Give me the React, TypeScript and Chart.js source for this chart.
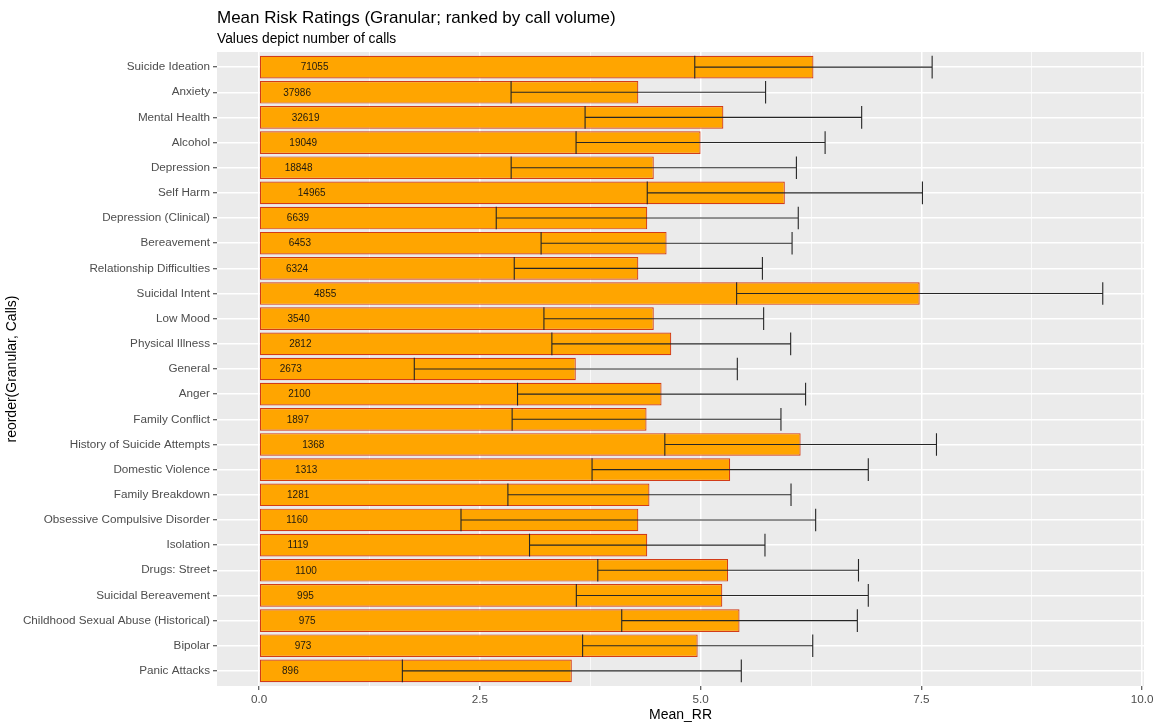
import React, { useEffect, useRef } from 'react';
import { Chart, registerables } from 'chart.js';

Chart.register(...registerables);

const categories = [
  'Suicide Ideation',
  'Anxiety',
  'Mental Health',
  'Alcohol',
  'Depression',
  'Self Harm',
  'Depression (Clinical)',
  'Bereavement',
  'Relationship Difficulties',
  'Suicidal Intent',
  'Low Mood',
  'Physical Illness',
  'General',
  'Anger',
  'Family Conflict',
  'History of Suicide Attempts',
  'Domestic Violence',
  'Family Breakdown',
  'Obsessive Compulsive Disorder',
  'Isolation',
  'Drugs: Street',
  'Suicidal Bereavement',
  'Childhood Sexual Abuse (Historical)',
  'Bipolar',
  'Panic Attacks',
];

const meanRR = [
  6.277, 4.294, 5.257, 4.999, 4.469, 5.953, 4.395, 4.614, 4.294, 7.48, 4.469, 4.667, 3.586,
  4.557, 4.387, 6.132, 5.334, 4.42, 4.294, 4.395, 5.311, 5.245, 5.44, 4.966, 3.541,
];

const sdRR = [
  1.344, 1.441, 1.566, 1.41, 1.615, 1.558, 1.71, 1.421, 1.405, 2.073, 1.244, 1.352, 1.829,
  1.631, 1.522, 1.538, 1.564, 1.603, 2.008, 1.333, 1.476, 1.653, 1.334, 1.303, 1.919,
];

const calls = [
  71055, 37986, 32619, 19049, 18848, 14965, 6639, 6453, 6324, 4855, 3540, 2812, 2673, 2100,
  1897, 1368, 1313, 1281, 1160, 1119, 1100, 995, 975, 973, 896,
];

const xTickValues = [0, 1.25, 2.5, 3.75, 5, 6.25, 7.5, 8.75, 10];
const majorTickValues = [0, 2.5, 5, 7.5, 10];

const chartTitle = 'Mean Risk Ratings (Granular; ranked by call volume)';
const chartSubtitle = 'Values depict number of calls';
const xTitle = 'Mean_RR';
const yTitle = 'reorder(Granular, Calls)';

const FONT = '"Liberation Sans", Arial, sans-serif';

const isMajor = (v: number) => majorTickValues.some((m) => Math.abs(m - v) < 1e-9);

const panelBg = {
  id: 'panelBg',
  beforeDraw(chart: any) {
    const { ctx, chartArea } = chart;
    ctx.save();
    ctx.fillStyle = '#EBEBEB';
    ctx.fillRect(chartArea.left, chartArea.top, chartArea.width, chartArea.height);
    ctx.restore();
  },
};

const errorBars = {
  id: 'errorBars',
  afterDatasetsDraw(chart: any) {
    const { ctx } = chart;
    const xs = chart.scales.x;
    const meta = chart.getDatasetMeta(0);
    ctx.save();
    ctx.strokeStyle = '#262626';
    ctx.lineWidth = 1.1;
    meta.data.forEach((bar: any, i: number) => {
      const y = bar.y;
      const h = bar.height;
      const x1 = xs.getPixelForValue(meanRR[i] - sdRR[i]);
      const x2 = xs.getPixelForValue(meanRR[i] + sdRR[i]);
      ctx.beginPath();
      ctx.moveTo(x1, y);
      ctx.lineTo(x2, y);
      ctx.moveTo(x1, y - h / 2);
      ctx.lineTo(x1, y + h / 2);
      ctx.moveTo(x2, y - h / 2);
      ctx.lineTo(x2, y + h / 2);
      ctx.stroke();
    });
    ctx.fillStyle = '#1f1a10';
    ctx.font = `10px ${FONT}`;
    ctx.textAlign = 'center';
    ctx.textBaseline = 'middle';
    meta.data.forEach((bar: any, i: number) => {
      const x = xs.getPixelForValue(meanRR[i] / 10);
      ctx.fillText(String(calls[i]), x, bar.y + 0.5);
    });
    ctx.restore();
  },
};

const titles = {
  id: 'titles',
  afterDraw(chart: any) {
    const { ctx, chartArea } = chart;
    ctx.save();
    ctx.fillStyle = '#000';
    ctx.textAlign = 'left';
    ctx.textBaseline = 'alphabetic';
    ctx.font = `17px ${FONT}`;
    ctx.fillText(chartTitle, chartArea.left, 23);
    ctx.font = `13.8px ${FONT}`;
    ctx.fillText(chartSubtitle, chartArea.left, 43);
    ctx.restore();
  },
};

export default function App() {
  const canvasRef = useRef<HTMLCanvasElement | null>(null);

  useEffect(() => {
    if (!canvasRef.current) return;
    const chart = new Chart(canvasRef.current, {
      type: 'bar',
      data: {
        datasets: [
          {
            data: meanRR.map((v, i) => ({ x: v, y: i })) as any,
            backgroundColor: '#FFA500',
            borderColor: '#D23C18',
            borderWidth: 1.2,
            borderSkipped: false,
            categoryPercentage: 1,
            barPercentage: 0.9,
          },
        ],
      },
      options: {
        indexAxis: 'y',
        responsive: false,
        animation: false,
        layout: { padding: { top: 52, right: 13, left: 0, bottom: 0 } },
        plugins: {
          legend: { display: false },
          tooltip: { enabled: false },
          title: { display: false },
        },
        scales: {
          x: {
            type: 'linear',
            min: -0.477,
            max: 10.02,
            offset: false,
            afterBuildTicks: (scale: any) => {
              scale.ticks = xTickValues.map((v) => ({ value: v }));
            },
            afterFit: (scale: any) => {
              scale.height = 39;
            },
            ticks: {
              autoSkip: false,
              maxRotation: 0,
              padding: 3,
              color: '#4D4D4D',
              font: { family: FONT, size: 11.7 },
              callback: (v: any) => (isMajor(Number(v)) ? Number(v).toFixed(1) : ''),
            },
            grid: {
              offset: false,
              color: '#FFFFFF',
              lineWidth: (ctx: any) => (ctx.tick && isMajor(ctx.tick.value) ? 1.5 : 0.7),
              tickColor: (ctx: any) =>
                ctx.tick && isMajor(ctx.tick.value) ? '#333333' : 'rgba(0,0,0,0)',
              tickLength: 4,
              tickWidth: 1,
            },
            border: { display: false },
            title: {
              display: true,
              text: xTitle,
              color: '#000',
              font: { family: FONT, size: 14 },
              padding: { top: 0, bottom: 1 },
            },
          },
          y: {
            type: 'linear',
            reverse: true,
            min: -0.6,
            max: 24.6,
            offset: false,
            afterBuildTicks: (scale: any) => {
              scale.ticks = categories.map((_, i) => ({ value: i }));
            },
            afterFit: (scale: any) => {
              scale.width = 217;
            },
            ticks: {
              autoSkip: false,
              padding: 3,
              color: '#4D4D4D',
              font: { family: FONT, size: 11.7 },
              callback: (v: any) => categories[Number(v)] ?? '',
            },
            grid: {
              offset: false,
              color: '#FFFFFF',
              lineWidth: 1.5,
              tickColor: '#333333',
              tickLength: 4,
              tickWidth: 1,
            },
            border: { display: false },
            title: {
              display: true,
              text: yTitle,
              color: '#000',
              font: { family: FONT, size: 14 },
              padding: { top: 4, bottom: 0 },
            },
          },
        },
      } as any,
      plugins: [panelBg, errorBars, titles],
    });
    return () => chart.destroy();
  }, []);

  return (
    <div style={{ position: 'absolute', left: 0, top: 0, width: 1157, height: 725 }}>
      <canvas ref={canvasRef} width={1157} height={725} style={{ display: 'block' }} />
    </div>
  );
}
